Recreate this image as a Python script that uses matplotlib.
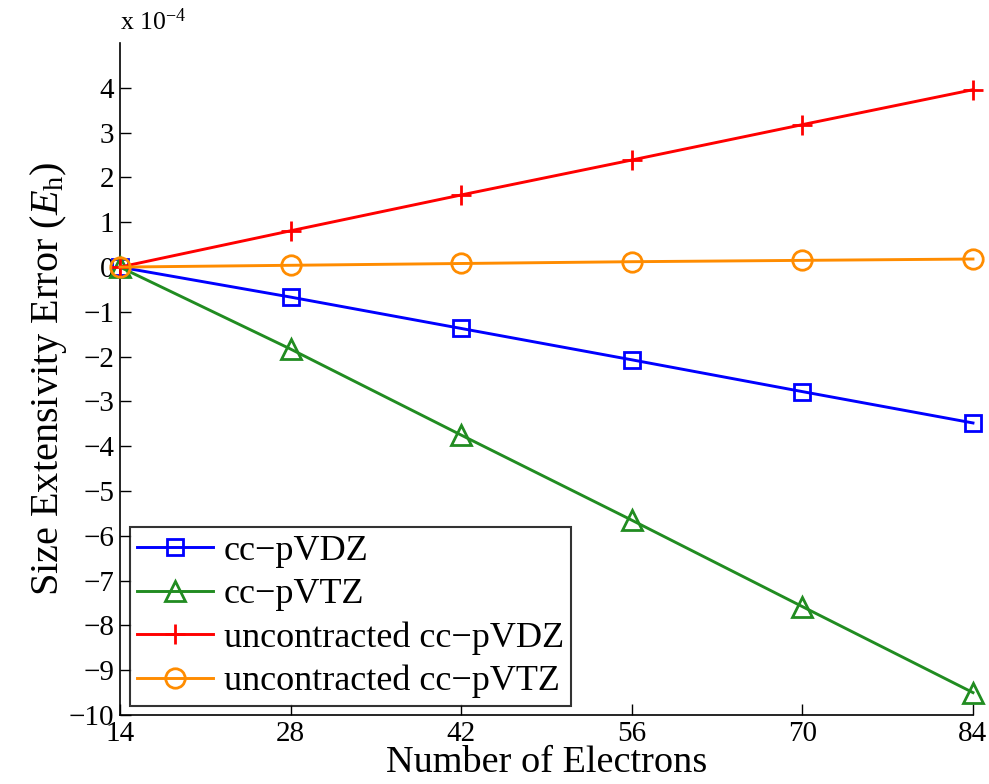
import numpy as np
import matplotlib
matplotlib.use("Agg")
import matplotlib.pyplot as plt

plt.rcParams['font.family'] = ['Liberation Serif', 'DejaVu Serif']
plt.rcParams['mathtext.fontset'] = 'custom'
plt.rcParams['mathtext.rm'] = 'Liberation Serif'
plt.rcParams['mathtext.it'] = 'Liberation Serif:italic'

electrons = [14, 28, 42, 56, 70, 84]
# values in units of 1e-4 Eh
vdz = [0.0, -0.67, -1.37, -2.07, -2.78, -3.48]
vtz = [0.0, -1.83, -3.75, -5.65, -7.58, -9.50]
unc_vdz = [0.0, 0.81, 1.61, 2.39, 3.18, 3.96]
unc_vtz = [0.0, 0.04, 0.08, 0.12, 0.15, 0.18]
yticks = list(range(-10, 5))

fig = plt.figure(figsize=(9.89, 7.84), dpi=100)
ax = fig.add_axes([0.1213, 0.088, 0.8625, 0.857])

lw = 2.1
ax.plot(electrons, vdz, color=(0, 0, 1), lw=lw, marker='s', ms=11, mfc='none',
        mew=2, label='cc\u2212pVDZ', clip_on=False, zorder=3)
ax.plot(electrons, vtz, color=(0.13, 0.55, 0.13), lw=lw, marker='^', ms=14, mfc='none',
        mew=2, label='cc\u2212pVTZ', clip_on=False, zorder=3)
ax.plot(electrons, unc_vdz, color=(1, 0, 0), lw=lw, marker='+', ms=15,
        mew=2, label='uncontracted cc\u2212pVDZ', clip_on=False, zorder=3)
ax.plot(electrons, unc_vtz, color=(1, 0.55, 0), lw=lw, marker='o', ms=14, mfc='none',
        mew=2, label='uncontracted cc\u2212pVTZ', clip_on=False, zorder=3)

ax.set_xlim(14, 84)
ax.set_ylim(-10, 5)
ax.set_xticks(electrons)
ax.set_yticks(yticks)
ax.set_yticklabels([str(v).replace('-', '\u2212') for v in yticks])
ax.tick_params(direction='in', length=8, width=1, labelsize=21)
ax.tick_params(axis='x', pad=4)
ax.tick_params(axis='y', pad=4)
for s in ['top', 'right']:
    ax.spines[s].set_visible(False)
for s in ['left', 'bottom']:
    ax.spines[s].set_linewidth(1.2)

ax.set_xlabel('Number of Electrons', fontsize=27.5, labelpad=-1)
ax.set_ylabel('Size Extensivity Error ($\\mathit{E}_\\mathrm{h}$)', fontsize=29, labelpad=0)
ax.text(0.0, 1.012, 'x 10$^{\\mathrm{\u22124}}$', transform=ax.transAxes, fontsize=18.5,
        va='bottom', ha='left')

leg = ax.legend(loc='lower left', bbox_to_anchor=(0.012, 0.014), fontsize=26,
                frameon=True, fancybox=False, edgecolor='black', handlelength=2.1,
                handletextpad=0.3, borderpad=0.2, labelspacing=0.28, borderaxespad=0)
leg.get_frame().set_linewidth(1.5)

fig.savefig('out.png', dpi=100)
